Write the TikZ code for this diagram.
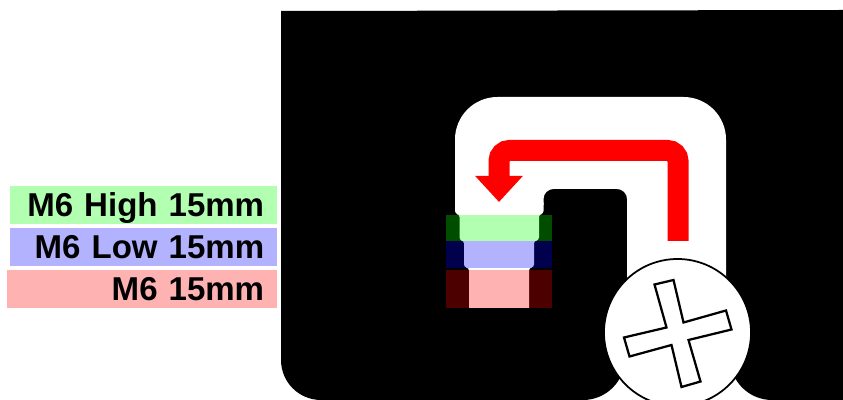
\documentclass[tikz,border=0pt]{standalone}
\usepackage{fontspec}
\setmainfont{Liberation Sans}
\usetikzlibrary{arrows.meta}
\tikzset{
    boltlabel/.style={anchor=east, inner xsep=0.25cm, inner ysep=0pt, align=right,
        text width=4.84cm, text height=0.614cm, text depth=0.146cm,
        font=\fontsize{18.8}{20}\selectfont\bfseries},
    threadband/.style={fill opacity=0.3},
}
\begin{document}
\begin{tikzpicture}
    \useasboundingbox (0,0) rectangle (16.86,8);

    \fill
        (5.62,7.78) -- (16.86,7.80) -- (16.86,0) -- (15.44,0)
        arc[start angle=270, end angle=180, radius=0.84] -- (12.5,0.84)
        arc[start angle=0, end angle=-90, radius=0.84] -- (6.42,0)
        arc[start angle=270, end angle=180, radius=0.8] -- cycle
    ;

    % channel
    \fill [white, rounded corners=0.85cm]
        (9.10,3.9) -- (9.10,6.06) -- (14.52,6.06) [sharp corners] -- (14.52,1.5) -- (12.54,1.5)
        [rounded corners=0.2cm] -- (12.54,4.22) -- (10.87,4.22) [sharp corners] -- (10.87,3.9) -- cycle
    ;
    % stepped hole
    \fill [white, rounded corners=0.06cm]
        (9.10,4) -- (9.10,3.72) -- (9.19,3.72) -- (9.19,3.19) -- (9.28,3.19) -- (9.28,2.65)
        -- (9.38,2.65) [sharp corners] -- (9.38,1.84) -- (10.58,1.84) [rounded corners=0.06cm] -- (10.58,2.65) -- (10.68,2.65)
        -- (10.68,3.19) -- (10.78,3.19) -- (10.78,3.72) -- (10.87,3.72) -- (10.87,4) -- cycle
    ;
    \fill [threadband, green] (8.92,3.18) rectangle (11.04,3.70);
    \fill [threadband, blue] (8.92,2.64) rectangle (11.04,3.18);
    \fill [threadband, red] (8.92,1.84) rectangle (11.04,2.60);

    \draw [red, line width=0.42cm, rounded corners=0.21cm, -{Triangle[length=0.52cm, width=0.92cm]}]
        (13.56,3.18) -- (13.56,4.99) -- (9.98,4.99) -- (9.98,3.96)
    ;

    % screw head
    \draw [fill=white, line width=0.035cm] (13.55,1.35) circle (1.47);
    \draw [line width=0.045cm]
        (13.09,2.31) -- (13.47,2.40) -- (13.67,1.55) -- (14.52,1.79) -- (14.63,1.41)
        -- (13.77,1.20) -- (14.01,0.37) -- (13.63,0.26) -- (13.43,1.10) -- (12.59,0.87)
        -- (12.48,1.25) -- (13.33,1.45) -- cycle
    ;

    \node (highlabel) [boltlabel, fill=green!30] at (5.54,3.90) {M6 High 15mm};
    \node (lowlabel) [boltlabel, fill=blue!30] at (5.54,3.06) {M6 Low 15mm};
    \node (plainlabel) [boltlabel, fill=red!30, text width=4.90cm] at (5.54,2.22) {M6 15mm};
\end{tikzpicture}
\end{document}
